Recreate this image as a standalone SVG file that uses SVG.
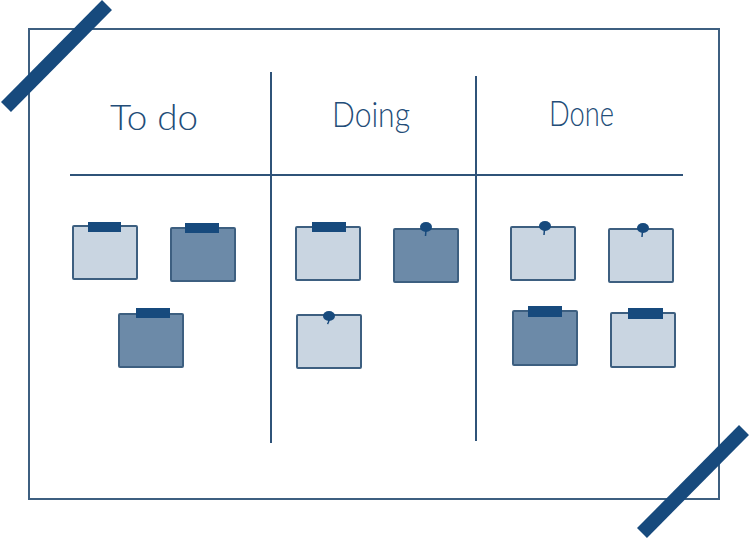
<svg xmlns="http://www.w3.org/2000/svg" width="750" height="539" viewBox="0 0 750 539">
<style>
.frame{fill:none;stroke:#3d5f80;stroke-width:2}
.line{fill:none;stroke:#2f5379;stroke-width:2}
.tapebar{stroke:#174a7d;stroke-width:14;stroke-linecap:butt}
.light{fill:#c9d5e1;stroke:#3d5f80;stroke-width:2}
.dark{fill:#6c8aa8;stroke:#3d5f80;stroke-width:2}
.tape{fill:#174a7d}
.pin{fill:#174a7d}
.stem{fill:none;stroke:#174a7d;stroke-width:1.5}
.head{font-family:Lato,"Liberation Sans",sans-serif;font-weight:300;font-size:36px;fill:#234d78;text-anchor:middle}
</style>
<rect width="750" height="539" fill="#ffffff"/>
<g id="board">
<rect class="frame" x="29" y="29" width="690" height="470"/>
</g>
<g id="connectors">
<line class="line" x1="70" y1="175" x2="683" y2="175"/>
<line class="line" x1="271" y1="72" x2="271" y2="443"/>
<line class="line" x1="476" y1="76" x2="476" y2="441"/>
</g>
<g id="tape-top-left"><line class="tapebar" x1="6" y1="107" x2="107" y2="5"/></g>
<g id="tape-bottom-right"><line class="tapebar" x1="642" y1="533" x2="744" y2="430"/></g>
<g id="header-todo"><text class="head" x="154" y="130" textLength="88" lengthAdjust="spacingAndGlyphs">To do</text></g>
<g id="header-doing"><text class="head" x="371" y="127" textLength="78" lengthAdjust="spacingAndGlyphs">Doing</text></g>
<g id="header-done"><text class="head" x="581.5" y="126" textLength="65" lengthAdjust="spacingAndGlyphs">Done</text></g>
<g id="note1"><rect class="light" x="73" y="226" width="64" height="53" rx="1"/><rect class="tape" x="88" y="222" width="33" height="10"/></g>
<g id="note2"><rect class="dark" x="171" y="228" width="64" height="53" rx="1"/><rect class="tape" x="185" y="223" width="34" height="10"/></g>
<g id="note3"><rect class="dark" x="119" y="314" width="64" height="53" rx="1"/><rect class="tape" x="136" y="308" width="34" height="10"/></g>
<g id="note4"><rect class="light" x="296" y="227" width="64" height="53" rx="1"/><rect class="tape" x="312" y="222" width="34" height="10"/></g>
<g id="note5"><rect class="dark" x="394" y="229" width="64" height="53" rx="1"/><ellipse class="pin" cx="426" cy="227" rx="6" ry="5"/><path class="stem" d="M426 230 L425.5 236"/></g>
<g id="note6"><rect class="light" x="297" y="315" width="64" height="53" rx="1"/><ellipse class="pin" cx="329" cy="316" rx="6" ry="5"/><path class="stem" d="M329 319 Q329 322 327.5 324"/></g>
<g id="note7"><rect class="light" x="511" y="227" width="64" height="53" rx="1"/><ellipse class="pin" cx="545" cy="226" rx="6" ry="5"/><path class="stem" d="M544.5 229 L544 235"/></g>
<g id="note8"><rect class="light" x="609" y="229" width="64" height="53" rx="1"/><ellipse class="pin" cx="643" cy="228" rx="6" ry="5"/><path class="stem" d="M642.5 231 L642 237"/></g>
<g id="note9"><rect class="dark" x="513" y="311" width="64" height="54" rx="1"/><rect class="tape" x="528" y="306" width="34" height="11"/></g>
<g id="note10"><rect class="light" x="611" y="313" width="64" height="54" rx="1"/><rect class="tape" x="628" y="308" width="35" height="11"/></g>
</svg>
